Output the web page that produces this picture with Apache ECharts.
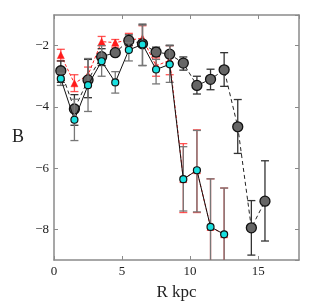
<!DOCTYPE html>
<html><head><meta charset="utf-8">
<script src="https://cdn.jsdelivr.net/npm/echarts@6/dist/echarts.min.js"></script>
<style>html,body{margin:0;padding:0;background:#fff}#c{width:327px;height:306px}</style>
</head><body><div id="c"></div>
<script>
var R = [0.5,1.5,2.5,3.5,4.5,5.5,6.5,7.5,8.5,9.5,10.5,11.5,12.5,13.5,14.5,15.5];
// gray circles (dashed black line)
var grayB   = [-2.82,-4.07,-3.12,-2.36,-2.23,-1.83,-1.94,-2.21,-2.28,-2.57,-3.30,-3.10,-2.79,-4.65,-7.95,-7.08];
var grayLo  = [-3.20,-4.60,-3.70,-2.65,-2.30,-2.00,-2.65,-2.35,-2.60,-2.80,-3.58,-3.44,-3.33,-5.52,-8.84,-8.38];
var grayHi  = [-2.50,-3.60,-2.45,-2.10,-2.15,-1.65,-1.30,-2.05,-2.00,-2.37,-3.00,-2.77,-2.23,-3.76,-7.06,-5.76];
// red triangles (dashed red line)
var redB    = [-2.31,-3.23,-2.96,-1.87,-1.90,-1.82,-1.76,-2.66,-2.48,-6.36,-6.07,-7.92,-8.16];
var redLo   = [-2.50,-3.50,-3.20,-2.00,-2.05,-2.00,-2.00,-3.00,-2.95,-7.45,-7.45,-9.50,-9.50];
var redHi   = [-2.12,-2.95,-2.70,-1.70,-1.80,-1.60,-1.35,-2.40,-2.00,-5.20,-4.75,-6.35,-6.65];
// cyan points (solid black line)
var cyanB   = [-3.08,-4.42,-3.29,-2.51,-3.20,-2.14,-1.96,-2.78,-2.61,-6.36,-6.07,-7.92,-8.16];
var cyanLo  = [-3.30,-5.10,-4.15,-3.00,-3.55,-2.50,-2.65,-3.25,-3.20,-7.40,-7.43,-9.50,-9.50];
var cyanHi  = [-2.90,-3.75,-2.42,-2.00,-2.85,-1.90,-1.33,-2.45,-1.98,-5.30,-4.77,-6.35,-6.65];
var xTicks = [0,5,10,15];
var yTicks = [-8,-6,-4,-2];

function pts(ys){ return ys.map(function(v,i){return [R[i],v];}); }
function errs(lo,hi){ return lo.map(function(v,i){return [R[i],v,hi[i]];}); }
function errSeries(lo,hi,color,z){
  return {type:'custom', z:z, silent:true, data:errs(lo,hi), encode:{x:0,y:[1,2]},
    clip:true,
    renderItem:function(params,api){
      var x=api.value(0), a=api.coord([x,api.value(1)]), b=api.coord([x,api.value(2)]);
      var w=4;
      var st={stroke:color,lineWidth:1.3};
      return {type:'group',children:[
        {type:'line',shape:{x1:a[0],y1:a[1],x2:b[0],y2:b[1]},style:st},
        {type:'line',shape:{x1:a[0]-w,y1:a[1],x2:a[0]+w,y2:a[1]},style:st},
        {type:'line',shape:{x1:b[0]-w,y1:b[1],x2:b[0]+w,y2:b[1]},style:st}
      ]};
    }};
}
var font='"Liberation Serif","DejaVu Serif",serif';
var axCol='#8a8a8a';
var chart=echarts.init(document.getElementById('c'),null,{renderer:'canvas'});
chart.setOption({
  animation:false,
  grid:{left:54,right:28,top:15,bottom:45},
  xAxis:[{type:'value',min:0,max:18,interval:5,
    name:'R kpc',nameLocation:'middle',nameGap:24,
    nameTextStyle:{fontFamily:font,fontSize:17,color:'#222'},
    axisLine:{onZero:false,lineStyle:{color:axCol,width:1.5}},
    axisTick:{inside:true,length:4,lineStyle:{color:axCol}},
    axisLabel:{fontFamily:font,fontSize:13,color:'#222',margin:5,showMaxLabel:false,
      formatter:function(v){return xTicks.indexOf(v)>=0?String(v):'';}},
    splitLine:{show:false}},
   {type:'value',position:'top',min:0,max:18,interval:5,
    axisLine:{onZero:false,lineStyle:{color:axCol,width:1.5}},
    axisTick:{inside:true,length:4,lineStyle:{color:axCol}},
    axisLabel:{show:false},splitLine:{show:false}}],
  yAxis:[{type:'value',min:-9,max:-1,splitNumber:4,
    name:'B',nameLocation:'middle',nameGap:30,nameRotate:0,
    nameTextStyle:{fontFamily:font,fontSize:18,color:'#222'},
    axisLine:{show:true,onZero:false,lineStyle:{color:axCol,width:1.5}},
    axisTick:{show:true,inside:true,length:4,lineStyle:{color:axCol}},
    axisLabel:{fontFamily:font,fontSize:13,color:'#222',margin:5,showMinLabel:false,showMaxLabel:false,
      formatter:function(v){return yTicks.indexOf(v)>=0?'\u2212'+Math.abs(v):'';}},
    splitLine:{show:false}},
   {type:'value',position:'right',min:-9,max:-1,splitNumber:4,
    axisLine:{show:true,onZero:false,lineStyle:{color:axCol,width:1.5}},
    axisTick:{show:true,inside:true,length:4,lineStyle:{color:axCol}},
    axisLabel:{show:false},splitLine:{show:false}}],
  series:[
    errSeries(redLo,redHi,'rgba(255,40,40,0.8)',1),
    {type:'line',data:pts(redB),z:2,symbol:'triangle',symbolSize:7,
      lineStyle:{color:'#ff2020',width:1,type:[3,2]},
      itemStyle:{color:'#ff1a1a',borderColor:'#ff1a1a',borderWidth:0.5}},
    errSeries(grayLo,grayHi,'#333',3),
    {type:'line',data:pts(grayB),z:4,symbol:'circle',symbolSize:10,
      lineStyle:{color:'#222',width:1,type:[4,3]},
      itemStyle:{color:'#666',borderColor:'#111',borderWidth:1.3}},
    errSeries(cyanLo,cyanHi,'#777',5),
    {type:'line',data:pts(cyanB),z:6,symbol:'circle',symbolSize:7,
      lineStyle:{color:'#111',width:1},
      itemStyle:{color:'#19e0e0',borderColor:'#111',borderWidth:1.2}}
  ]
});
</script></body></html>
